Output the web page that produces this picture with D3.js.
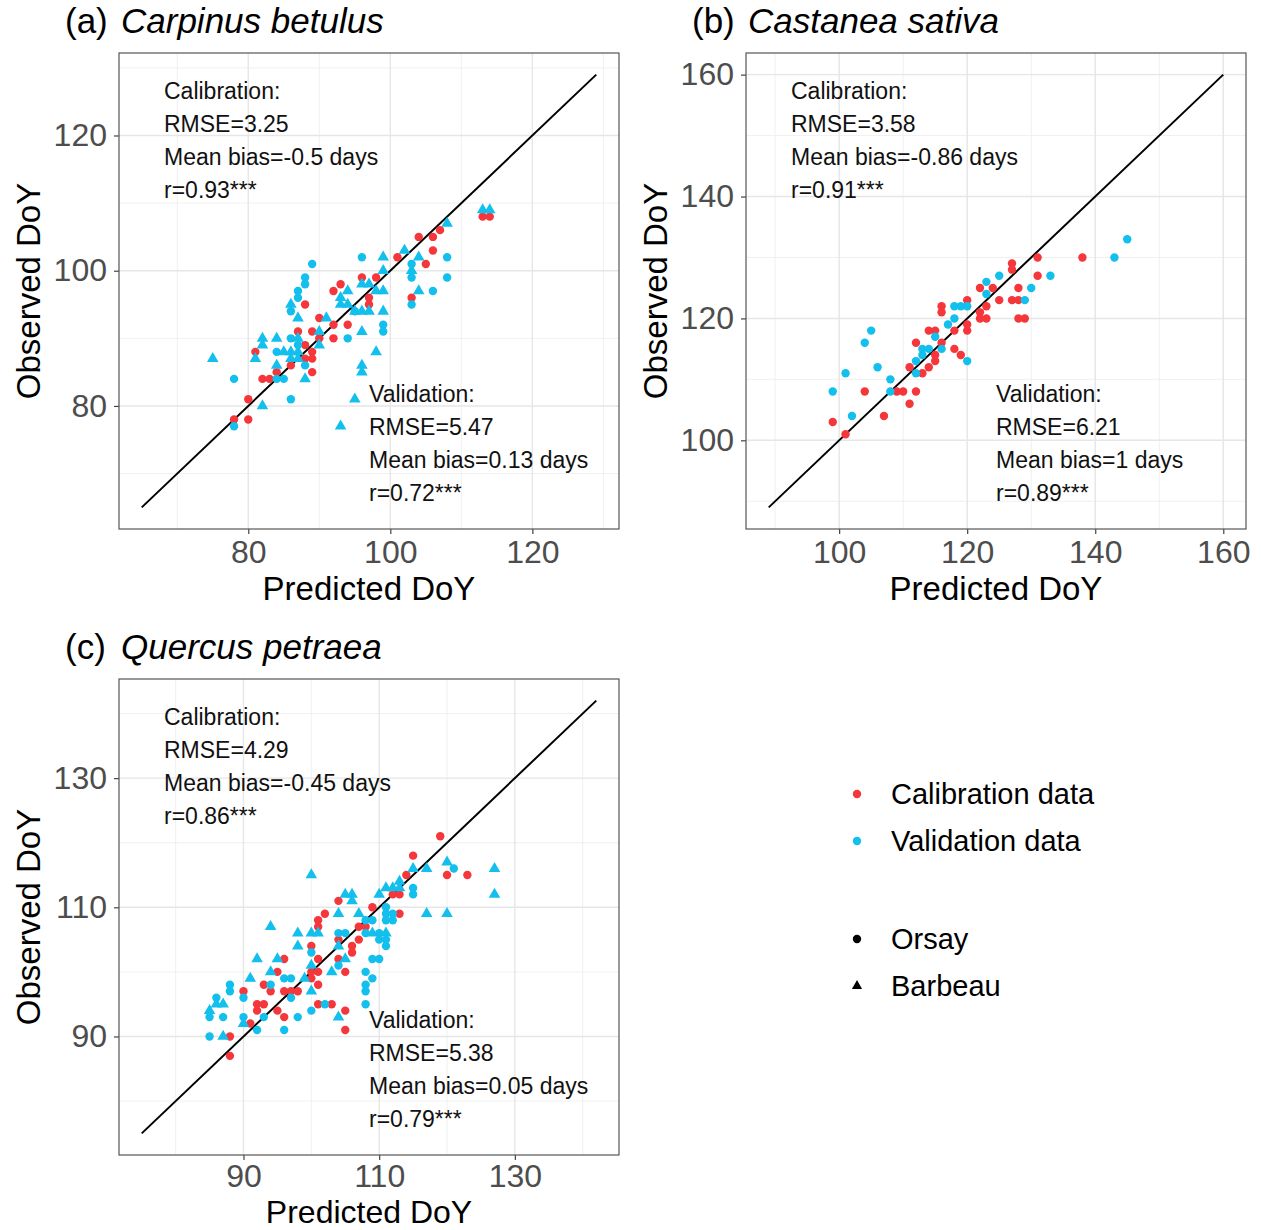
<!DOCTYPE html>
<html>
<head>
<meta charset="utf-8">
<script src="https://cdn.jsdelivr.net/npm/d3@7"></script>
<style>
  body { margin: 0; background: #fff; }
  text { font-family: "Liberation Sans", Arial, sans-serif; }
</style>
</head>
<body>
<svg id="chart" width="1261" height="1230"></svg>
<script>
// predicted DoY, observed DoY
var carpCal = [[78,78],[80,81],[80,78],[81,88],[82,84],[83,84],[84,85],[86,86],[87,91],[88,95],[88,89],[88,87],
  [89,91],[89,88],[89,87],[89,85],[90,93],[90,90],[92,92],[92,90],[92,97],[93,98],[94,92],[96,99],[97,96],[97,95],
  [98,99],[101,102],[103,96],[104,105],[105,101],[106,105],[106,103],[107,106],[113,108],[114,108]];
var carpValO = [[78,84],[78,77],[84,88],[84,84],[85,84],[86,81],[86,90],[86,94],[87,97],[87,96],[88,99],[88,98],
  [89,101],[88,86],[87,89],[94,90],[95,94],[96,102],[99,92],[99,91],[103,101],[103,99],[103,95],[106,97],[108,102],[108,99]];
var carpValB = [[75,87],[81,87],[82,80],[82,90],[82,89],[84,90],[84,86],[85,88],[86,95],[86,88],[86,87],[87,93],
  [87,90],[87,88],[87,87],[88,84],[90,91],[90,89],[91,93],[93,96],[93,95],[94,97],[94,95],[95,94],[96,94],[96,98],
  [96,91],[96,86],[96,85],[97,98],[97,94],[98,97],[98,88],[99,102],[99,100],[99,97],[99,94],[102,103],[103,100],
  [104,102],[104,97],[108,107],[113,109],[114,109],[93,77],[95,81]];

var castCal = [[99,103],[101,101],[104,108],[107,104],[109,108],[110,108],[111,106],[112,108],[111,112],[112,116],
  [113,111],[114,112],[115,114],[115,113],[114,118],[115,118],[116,116],[116,121],[116,122],[118,118],[118,115],
  [119,114],[120,123],[120,119],[120,118],[122,121],[122,120],[123,120],[123,122],[122,125],[124,125],[125,123],
  [127,129],[127,128],[127,123],[128,123],[128,125],[128,120],[129,120],[131,130],[131,127],[138,130]];
var castValO = [[99,108],[102,104],[101,111],[104,116],[105,118],[106,112],[108,110],[108,108],[112,111],[112,113],
  [113,114],[113,115],[114,115],[115,117],[116,115],[117,119],[118,120],[118,122],[119,122],[120,122],[120,113],
  [123,124],[123,126],[125,127],[129,123],[130,125],[133,127],[143,130],[145,133]];
var castValB = [];

var quercCal = [[88,90],[88,87],[90,97],[91,92],[92,95],[92,94],[93,95],[93,98],[94,97],[95,100],[95,94],[96,102],
  [96,97],[96,93],[97,97],[98,97],[100,104],[100,100],[100,99],[101,108],[101,107],[102,109],[101,102],[101,100],
  [101,98],[101,95],[103,95],[104,111],[104,105],[104,102],[105,94],[105,91],[105,100],[106,104],[106,103],
  [107,107],[107,105],[108,107],[109,110],[112,112],[113,112],[113,109],[114,115],[115,118],[119,121],[120,115],[123,115]];
var quercValO = [[85,90],[85,93],[86,96],[87,93],[88,98],[88,97],[90,96],[90,93],[92,91],[93,93],[94,98],[96,99],
  [97,99],[96,91],[97,96],[98,93],[100,103],[100,94],[102,95],[104,106],[104,101],[105,106],[108,108],[109,108],
  [108,100],[108,98],[108,97],[108,95],[109,102],[110,102],[109,99],[110,105],[111,105],[111,104],[111,110],
  [111,109],[111,108],[112,109],[112,108],[115,113],[115,112],[121,116],[108,106],[110,106]];
var quercValB = [[85,94],[86,95],[87,90],[87,95],[90,92],[91,99],[92,102],[94,100],[95,102],[94,107],[98,106],
  [98,104],[99,99],[100,115],[100,106],[100,101],[100,97],[101,106],[103,100],[104,109],[104,104],[104,93],
  [105,102],[105,112],[106,112],[106,111],[107,109],[109,106],[111,106],[110,112],[111,113],[112,113],[113,113],
  [113,114],[115,116],[117,116],[117,109],[120,109],[120,117],[127,116],[127,112]];

var carpTicks = [80, 100, 120];
var castTicks = [100, 120, 140, 160];
var quercTicks = [90, 110, 130];

var carpStats = [['Calibration:', 'RMSE=3.25', 'Mean bias=-0.5 days', 'r=0.93***'],
                 ['Validation:', 'RMSE=5.47', 'Mean bias=0.13 days', 'r=0.72***']];
var castStats = [['Calibration:', 'RMSE=3.58', 'Mean bias=-0.86 days', 'r=0.91***'],
                 ['Validation:', 'RMSE=6.21', 'Mean bias=1 days', 'r=0.89***']];
var quercStats = [['Calibration:', 'RMSE=4.29', 'Mean bias=-0.45 days', 'r=0.86***'],
                  ['Validation:', 'RMSE=5.38', 'Mean bias=0.05 days', 'r=0.79***']];

var legendColour = ['Calibration data', 'Validation data'];
var legendSite = ['Orsay', 'Barbeau'];

var RED = '#f5363b', BLUE = '#12bfed';

// bottom panel sits right at the page edge, so its x labels are packed a bit tighter
var panels = [
  { tag: '(a)', name: 'Carpinus betulus', x: 119, y: 53, w: 500, h: 476, lim: [65, 129], ticks: carpTicks,
    cal: carpCal, valO: carpValO, valB: carpValB, stats: carpStats, xt: 71, pd: 6, ts: 33 },
  { tag: '(b)', name: 'Castanea sativa', x: 746, y: 53, w: 500, h: 476, lim: [89, 160], ticks: castTicks,
    cal: castCal, valO: castValO, valB: castValB, stats: castStats, xt: 71, pd: 6, ts: 33 },
  { tag: '(c)', name: 'Quercus petraea', x: 119, y: 679, w: 500, h: 476, lim: [75, 142], ticks: quercTicks,
    cal: quercCal, valO: quercValO, valB: quercValB, stats: quercStats, xt: 68, pd: 4, ts: 32 }
];

var svg = d3.select('#chart');
var tri = d3.symbol().type(d3.symbolTriangle).size(58);

panels.forEach(function (p) {
  var pad = (p.lim[1] - p.lim[0]) * 0.05;
  var dom = [p.lim[0] - pad, p.lim[1] + pad];
  var x = d3.scaleLinear().domain(dom).range([0, p.w]);
  var y = d3.scaleLinear().domain(dom).range([p.h, 0]);
  var step = p.ticks[1] - p.ticks[0];
  var minor = [];
  for (var v = p.ticks[0] - step / 2; v <= dom[1]; v += step) if (v >= dom[0]) minor.push(v);

  var g = svg.append('g').attr('transform', 'translate(' + p.x + ',' + p.y + ')');

  // grid
  g.selectAll('.mnx').data(minor).enter().append('line')
    .attr('x1', x).attr('x2', x).attr('y1', 0).attr('y2', p.h)
    .attr('stroke', '#ececec').attr('stroke-width', 0.8);
  g.selectAll('.mny').data(minor).enter().append('line')
    .attr('y1', y).attr('y2', y).attr('x1', 0).attr('x2', p.w)
    .attr('stroke', '#ececec').attr('stroke-width', 0.8);
  g.selectAll('.mjx').data(p.ticks).enter().append('line')
    .attr('x1', x).attr('x2', x).attr('y1', 0).attr('y2', p.h)
    .attr('stroke', '#e6e6e6').attr('stroke-width', 1.4);
  g.selectAll('.mjy').data(p.ticks).enter().append('line')
    .attr('y1', y).attr('y2', y).attr('x1', 0).attr('x2', p.w)
    .attr('stroke', '#e6e6e6').attr('stroke-width', 1.4);

  // axes
  var xa = g.append('g').attr('transform', 'translate(0,' + p.h + ')')
    .call(d3.axisBottom(x).tickValues(p.ticks).tickSize(5).tickPadding(p.pd));
  var ya = g.append('g').call(d3.axisLeft(y).tickValues(p.ticks).tickSize(5).tickPadding(7));
  [xa, ya].forEach(function (a) {
    a.select('.domain').remove();
    a.selectAll('line').attr('stroke', '#444').attr('stroke-width', 1.2);
    a.selectAll('text').attr('fill', '#4d4d4d').style('font-size', '32px')
      .style('font-family', '"Liberation Sans", Arial, sans-serif');
  });
  xa.selectAll('text').attr('dy', '0.71em');

  // 1:1 line
  g.append('line')
    .attr('x1', x(p.lim[0])).attr('y1', y(p.lim[0]))
    .attr('x2', x(p.lim[1])).attr('y2', y(p.lim[1]))
    .attr('stroke', '#000').attr('stroke-width', 2);

  // points
  g.selectAll('.cal').data(p.cal).enter().append('circle')
    .attr('cx', function (d) { return x(d[0]); })
    .attr('cy', function (d) { return y(d[1]); })
    .attr('r', 4.2).attr('fill', RED);
  g.selectAll('.valo').data(p.valO).enter().append('circle')
    .attr('cx', function (d) { return x(d[0]); })
    .attr('cy', function (d) { return y(d[1]); })
    .attr('r', 4.2).attr('fill', BLUE);
  g.selectAll('.valb').data(p.valB).enter().append('path')
    .attr('d', tri)
    .attr('transform', function (d) { return 'translate(' + x(d[0]) + ',' + y(d[1]) + ')'; })
    .attr('fill', BLUE);

  // border
  g.append('rect').attr('width', p.w).attr('height', p.h)
    .attr('fill', 'none').attr('stroke', '#555').attr('stroke-width', 1.2);

  // stats text
  p.stats.forEach(function (lines, i) {
    var t = g.append('text')
      .attr('x', i === 0 ? 45 : 250)
      .attr('y', i === 0 ? 46 : 349)
      .attr('fill', '#111').style('font-size', '23px');
    t.selectAll('tspan').data(lines).enter().append('tspan')
      .attr('x', i === 0 ? 45 : 250)
      .attr('dy', function (d, k) { return k === 0 ? 0 : 33; })
      .text(function (d) { return d; });
  });

  // titles
  g.append('text').attr('x', -54).attr('y', -20).style('font-size', '35px').text(p.tag);
  g.append('text').attr('x', 2).attr('y', -20).style('font-size', '35px')
    .style('font-style', 'italic').text(p.name);
  g.append('text').attr('x', p.w / 2).attr('y', p.h + p.xt).attr('text-anchor', 'middle')
    .style('font-size', p.ts + 'px').text('Predicted DoY');
  g.append('text').attr('transform', 'translate(-79,' + (p.h / 2) + ') rotate(-90)')
    .attr('text-anchor', 'middle').style('font-size', '33px').text('Observed DoY');
});

// legend
var lg = svg.append('g').attr('transform', 'translate(857,0)');
lg.selectAll('.lc').data(legendColour).enter().append('circle')
  .attr('cx', 0).attr('cy', function (d, i) { return 794 + i * 47; })
  .attr('r', 4.2).attr('fill', function (d, i) { return i === 0 ? RED : BLUE; });
lg.selectAll('.lct').data(legendColour).enter().append('text')
  .attr('x', 34).attr('y', function (d, i) { return 794 + i * 47; })
  .attr('dy', '0.36em').style('font-size', '29px').text(function (d) { return d; });
lg.append('circle').attr('cx', 0).attr('cy', 939).attr('r', 4.2).attr('fill', '#000');
lg.append('path').attr('d', d3.symbol().type(d3.symbolTriangle).size(45))
  .attr('transform', 'translate(0,986)').attr('fill', '#000');
lg.selectAll('.lst').data(legendSite).enter().append('text')
  .attr('x', 34).attr('y', function (d, i) { return 939 + i * 47; })
  .attr('dy', '0.36em').style('font-size', '29px').text(function (d) { return d; });
</script>
</body>
</html>
